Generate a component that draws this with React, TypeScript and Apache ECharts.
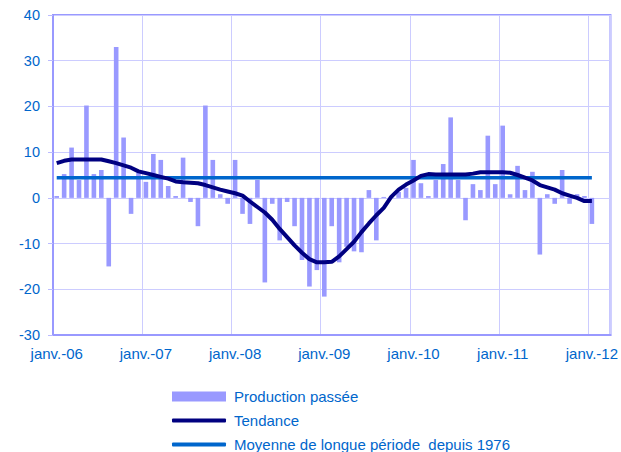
import React, { useEffect, useRef } from "react";
import * as echarts from "echarts";

const monthNames = ["janv.", "févr.", "mars", "avr.", "mai", "juin", "juil.", "août", "sept.", "oct.", "nov.", "déc."];
const years = ["06", "07", "08", "09", "10", "11", "12"];
const categories: string[] = [];
years.forEach((y) => monthNames.forEach((m) => categories.push(`${m}-${y}`)));
const axisCategories = categories.slice(0, 75); // janv.-06 .. mars-12

const production = [
  0.4, 5.2, 11.0, 3.9, 20.2, 5.2, 6.1, -15.0, 33.0, 13.2, -3.5, 5.5,
  3.5, 9.6, 8.3, 2.6, 0.4, 8.8, -0.9, -6.2, 20.2, 8.3, 0.8, -1.3,
  8.3, -3.5, -5.7, 3.9, -18.5, -1.3, -9.3, -0.9, -6.2, -13.6, -19.4, -15.8,
  -21.6, -6.2, -14.1, -10.7, -11.7, -11.9, 1.7, -9.3, 0.2, 0.3, 1.3, 2.2,
  8.3, 3.2, 0.4, 3.9, 7.4, 17.6, 3.9, -4.9, 3.0, 1.7, 13.6, 3.0,
  15.8, 0.8, 7.0, 1.7, 5.7, -12.4, 0.8, -1.3, 6.1, -1.3, 0.8, 0.4,
  -5.7,
];

const tendance = [
  7.6, 8.1, 8.4, 8.4, 8.4, 8.4, 8.4, 8.0, 7.6, 7.1, 6.6, 5.8,
  5.4, 5.0, 4.6, 4.2, 3.6, 3.4, 3.3, 3.2, 2.8, 2.3, 1.8, 1.4,
  1.0, 0.5, -0.8, -2.0, -3.2, -4.8, -6.8, -8.6, -10.4, -12.0, -13.4, -14.1,
  -14.1, -14.0, -12.8, -11.2, -9.6, -7.5, -5.6, -3.8, -2.2, 0.2, 1.8, 2.9,
  3.8, 4.8, 5.2, 5.1, 5.1, 5.1, 5.1, 5.1, 5.3, 5.6, 5.6, 5.6,
  5.6, 5.5, 5.0, 4.4, 3.8, 2.8, 2.3, 1.8, 1.0, 0.5, 0.0, -0.7,
  -0.7,
];

const moyenneLongue = 4.4;
const moyenneStart = "janv.-06";
const moyenneEnd = "janv.-12";

const nameBar = "Production passée";
const nameTrend = "Tendance";
const nameMean = "Moyenne de longue période  depuis 1976";

const labelColor = "#0066CC";
const font = "Liberation Sans, Arial, sans-serif";

export default function App() {
  const ref = useRef<HTMLDivElement>(null);
  useEffect(() => {
    if (!ref.current) return;
    const chart = echarts.init(ref.current, undefined, { renderer: "svg" });
    const isJan = (i: number) => i % 12 === 0;
    const legendBase = {
      orient: "horizontal",
      left: 172,
      padding: 0,
      itemWidth: 54,
      textStyle: { color: labelColor, fontSize: 15, fontFamily: font, padding: [0, 0, 0, 3] },
      selectedMode: false,
    };
    chart.setOption({
      animation: false,
      backgroundColor: "#ffffff",
      textStyle: { fontFamily: font },
      grid: {
        left: 53,
        right: 10,
        top: 15,
        bottom: 117,
        show: true,
        borderColor: "#9999FF",
        borderWidth: 2,
      },
      legend: [
        { ...legendBase, top: 389, itemHeight: 10, data: [{ name: nameBar, icon: "rect" }] },
        { ...legendBase, top: 413, itemHeight: 4, data: [{ name: nameTrend, icon: "roundRect" }] },
        { ...legendBase, top: 437, itemHeight: 4, data: [{ name: nameMean, icon: "roundRect" }] },
      ],
      xAxis: {
        type: "category",
        data: axisCategories,
        boundaryGap: true,
        axisLine: { onZero: false, lineStyle: { color: "#9999FF", width: 2 } },
        axisTick: { show: false },
        axisLabel: {
          interval: (i: number) => isJan(i),
          color: labelColor,
          fontSize: 15,
          fontFamily: font,
          margin: 11,
        },
        splitLine: {
          show: true,
          interval: (i: number) => isJan(i),
          lineStyle: { color: "#CCCCFF", width: 1 },
        },
      },
      yAxis: {
        type: "value",
        min: -30,
        max: 40,
        interval: 10,
        axisLine: { show: true, lineStyle: { color: "#9999FF", width: 2 } },
        axisTick: { show: true, length: 5, lineStyle: { color: "#BBBBFF" } },
        axisLabel: { color: labelColor, fontSize: 14.5, fontFamily: font, margin: 13 },
        splitLine: { show: true, lineStyle: { color: "#CCCCFF", width: 1 } },
      },
      series: [
        {
          name: nameBar,
          type: "bar",
          data: production,
          barWidth: "62%",
          itemStyle: { color: "#9999FF" },
        },
        {
          name: nameTrend,
          type: "line",
          data: tendance,
          symbol: "none",
          lineStyle: { color: "#000080", width: 4 },
          itemStyle: { color: "#000080" },
          z: 4,
        },
        {
          name: nameMean,
          type: "line",
          data: [
            [moyenneStart, moyenneLongue],
            [moyenneEnd, moyenneLongue],
          ],
          symbol: "none",
          lineStyle: { color: "#0066CC", width: 3.5 },
          itemStyle: { color: "#0066CC" },
          z: 3,
        },
      ],
    });
    return () => chart.dispose();
  }, []);
  return (
    <div
      ref={ref}
      style={{ position: "fixed", left: 0, top: 0, width: 621, height: 452 }}
    />
  );
}
